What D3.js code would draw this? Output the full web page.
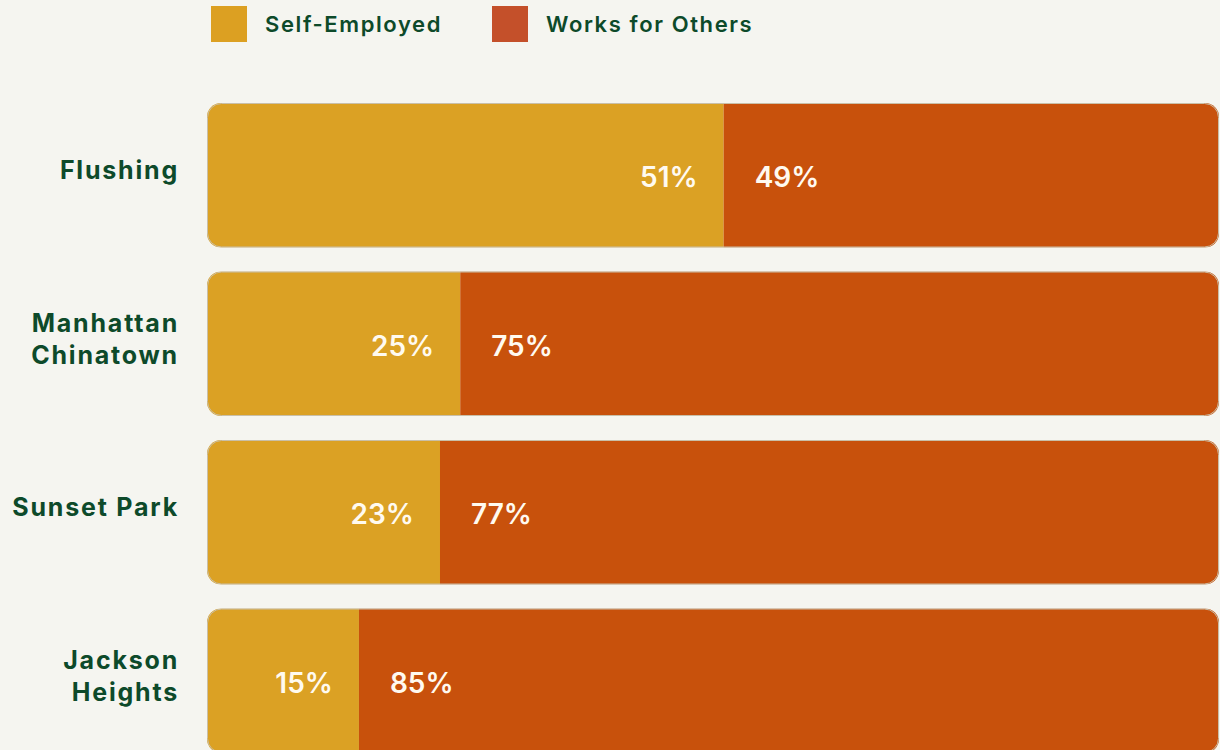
<!DOCTYPE html>
<html>
<head>
<meta charset="utf-8">
<script src="https://cdn.jsdelivr.net/npm/d3@7"></script>
<style>
  body { margin: 0; background: #f5f5f0; }
  svg { display: block; }
  text { font-family: Inter, "Open Sans", sans-serif; }
</style>
</head>
<body>
<svg id="chart" width="1220" height="750"></svg>
<script>
// data
var places = [["Flushing"], ["Manhattan", "Chinatown"], ["Sunset Park"], ["Jackson", "Heights"]];
var placeKeys = ["Flushing", "Manhattan Chinatown", "Sunset Park", "Jackson Heights"];
var selfEmployed = [51, 25, 23, 15];
var worksForOthers = [49, 75, 77, 85];
var seriesNames = ["Self-Employed", "Works for Others"];

var width = 1220, height = 750;
var marginLeft = 207, marginTop = 103;

var barColors = ["#dba124", "#c8510c"];
var legendColors = ["#dca022", "#c4502a"];
var green = "#0d4a2a";

var svg = d3.select('#chart');

var x = d3.scaleLinear().domain([0, 100]).range([marginLeft, 1220]);
// step 168.5, gap 24 between bars
var y = d3.scaleBand().domain(placeKeys).range([marginTop, marginTop + 4 * 168.5 - 24]).paddingInner(24 / 168.5).paddingOuter(0);

// legend
var legend = svg.append('g');
var legendX = [211, 492];
seriesNames.forEach(function(name, i) {
    legend.append('rect')
        .attr('x', legendX[i]).attr('y', 6)
        .attr('width', 36).attr('height', 36)
        .attr('fill', legendColors[i]);
    legend.append('text')
        .text(name)
        .attr('x', legendX[i] + 54).attr('y', 32)
        .attr('fill', green)
        .style('font-size', '22px')
        .style('letter-spacing', '1.6px')
        .style('font-weight', 600);
});

var defs = svg.append('defs');

placeKeys.forEach(function(key, i) {
    var y0 = y(key), bh = y.bandwidth();
    var clipId = 'clip' + i;
    defs.append('clipPath').attr('id', clipId)
        .append('rect')
        .attr('x', x(0)).attr('y', y0)
        .attr('width', x(100) - x(0) - 1).attr('height', bh)
        .attr('rx', 14).attr('ry', 14);

    var g = svg.append('g');
    var inner = g.append('g').attr('clip-path', 'url(#' + clipId + ')');
    inner.append('rect')
        .attr('x', x(0)).attr('y', y0)
        .attr('width', x(selfEmployed[i]) - x(0)).attr('height', bh)
        .attr('fill', barColors[0]);
    inner.append('rect')
        .attr('x', x(selfEmployed[i])).attr('y', y0)
        .attr('width', x(100) - x(selfEmployed[i])).attr('height', bh)
        .attr('fill', barColors[1]);

    g.append('rect')
        .attr('x', x(0) + 0.5).attr('y', y0 + 0.5)
        .attr('width', x(100) - x(0) - 2).attr('height', bh - 1)
        .attr('rx', 14).attr('ry', 14)
        .attr('fill', 'none')
        .attr('stroke', '#c9bfa8')
        .attr('stroke-width', 1);

    var cy = y0 + bh / 2 + 2;
    g.append('text')
        .text(selfEmployed[i] + '%')
        .attr('x', x(selfEmployed[i]) - 26).attr('y', cy)
        .attr('dy', '0.35em')
        .attr('text-anchor', 'end')
        .attr('fill', '#fffaf0')
        .style('font-size', '28px')
        .style('font-weight', 600);
    g.append('text')
        .text(worksForOthers[i] + '%')
        .attr('x', x(selfEmployed[i]) + 31).attr('y', cy)
        .attr('dy', '0.35em')
        .attr('fill', '#fffaf0')
        .style('font-size', '28px')
        .style('font-weight', 600);

    // category label
    var lines = places[i];
    var lab = g.append('text')
        .attr('text-anchor', 'end')
        .attr('fill', green)
        .style('font-size', '25px')
        .style('letter-spacing', '1.8px')
        .style('font-weight', 700);
    lines.forEach(function(line, j) {
        lab.append('tspan')
            .text(line)
            .attr('x', 179)
            .attr('y', y0 + bh / 2 - 5 + (j - (lines.length - 1) / 2) * 32)
            .attr('dy', '0.35em');
    });
});
</script>
</body>
</html>
